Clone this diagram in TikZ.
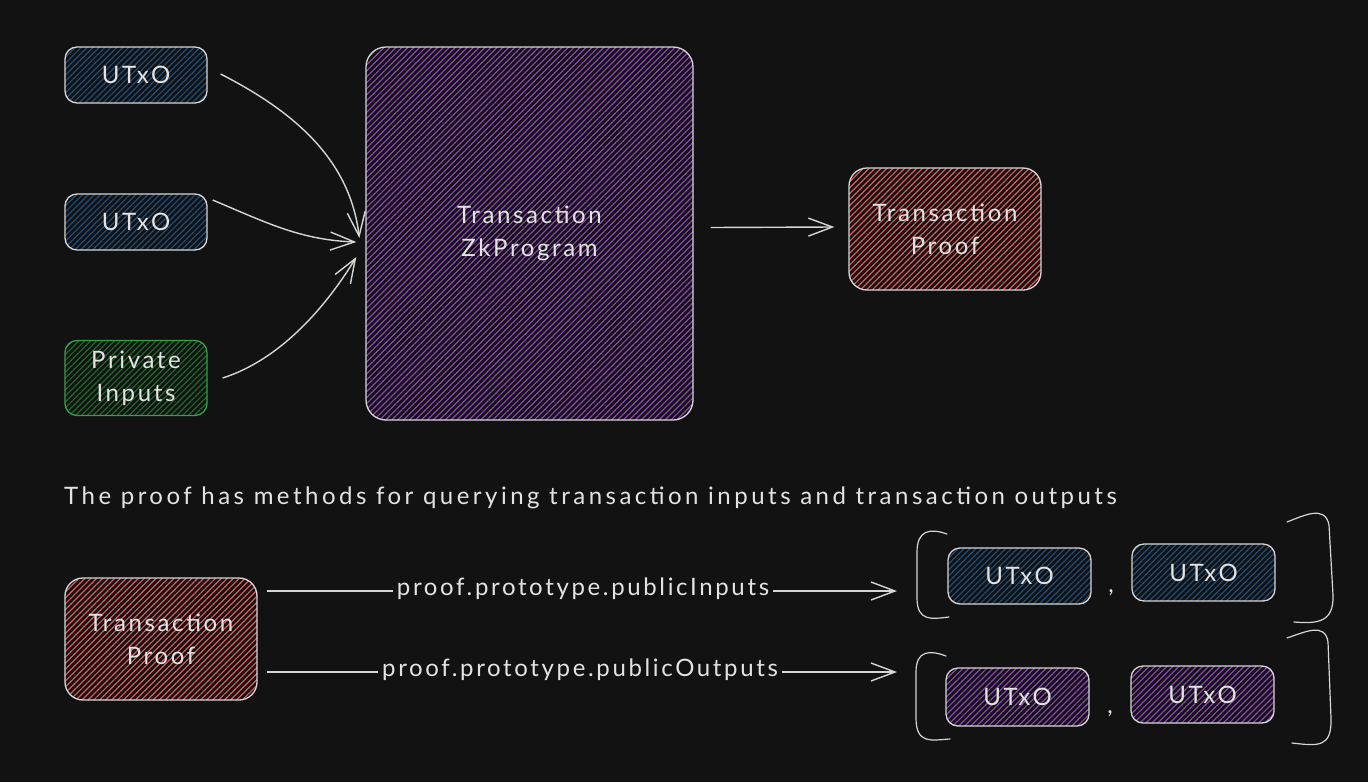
\documentclass[tikz,border=0pt]{standalone}
\usepackage{fontspec}
\setmainfont[LetterSpace=11]{Lato}
\newfontfamily\capfont[LetterSpace=14.5]{Lato}
\usetikzlibrary{arrows.meta,patterns.meta}
\definecolor{bg}{HTML}{121212}
\definecolor{ink}{HTML}{E3E3E3}
\definecolor{edge}{HTML}{D6D6D6}
\definecolor{hblue}{HTML}{1F4E7A}
\definecolor{hpurple}{HTML}{8E44B8}
\definecolor{hred}{HTML}{E05A5A}
\definecolor{hgreen}{HTML}{1E6B2A}
\definecolor{gedge}{HTML}{34A047}
\tikzset{
  txt/.style={text=ink,font=\fontsize{24}{33}\selectfont,align=center},
  box/.style={txt,draw=edge,line width=1.3pt,rounded corners=12pt,inner sep=0pt},
  hatch/.style={pattern={Lines[angle=45,distance=4.2pt,line width=1.2pt]},pattern color=#1},
  arr/.style={draw=edge,line width=1.4pt,-{Straight Barb[length=24pt,width=18pt,line width=1.4pt]}},
  plain/.style={draw=edge,line width=1.4pt},
  brk/.style={draw=edge,line width=1.2pt,line cap=round},
}
\begin{document}
\begin{tikzpicture}[x=1pt,y=-1pt]
\useasboundingbox (0,0) rectangle (1368,782);
\fill[bg] (0,0) rectangle (1368,782);

% top row
\node[box,hatch=hblue,minimum width=142pt,minimum height=56pt] (u1) at (136,75) {UTxO};
\node[box,hatch=hblue,minimum width=142pt,minimum height=56pt] (u2) at (136,222) {UTxO};
\node[box,hatch=hgreen,draw=gedge,minimum width=142pt,minimum height=75pt] (pi) at (136,378) {Private\\Inputs};
\node[box,hatch=hpurple,minimum width=327pt,minimum height=373pt,rounded corners=20pt] (zk) at (529.5,233.5) {Transaction\\ZkProgram};
\node[box,hatch=hred,minimum width=192pt,minimum height=122pt,rounded corners=18pt] (tp) at (945,229) {Transaction\\Proof};

\draw[arr] ([xshift=13pt,yshift=1pt]u1.east) .. controls (295,112) and (350,160) .. ([xshift=-6pt,yshift=-4.5pt]zk.west);
\draw[arr] ([xshift=5pt,yshift=22pt]u2.east) .. controls (265,222) and (300,240) .. ([xshift=-9pt,yshift=-8.5pt]zk.west);
\draw[arr] ([xshift=15pt]pi.east) .. controls (285,358) and (330,300) .. ([xshift=-9pt,yshift=-23.5pt]zk.west);
\draw[arr] ([xshift=17pt,yshift=6pt]zk.east) -- ([xshift=-14pt,yshift=2pt]tp.west);

% caption
\node[txt,font=\capfont\fontsize{24}{33}\selectfont,anchor=base west,inner sep=0pt] (cap) at (64,504) {The proof has methods for querying transaction inputs and transaction outputs};

% bottom
\node[box,hatch=hred,minimum width=192pt,minimum height=122pt,rounded corners=18pt] (bp) at (161,639) {Transaction\\Proof};
\node[txt,inner sep=4pt] (l1) at (583,589) {proof.prototype.publicInputs};
\node[txt,inner sep=4pt] (l2) at (580,670) {proof.prototype.publicOutputs};
\coordinate (s1) at (267,591);
\coordinate (s2) at (267,672);
\coordinate (e1) at (897,591);
\coordinate (e2) at (897,672);
\draw[plain] (s1) -- (l1.west |- s1);
\draw[arr] (l1.east |- e1) -- (e1);
\draw[plain] (s2) -- (l2.west |- s2);
\draw[arr] (l2.east |- e2) -- (e2);

\node[box,hatch=hblue,minimum width=143pt,minimum height=56pt] (o1) at (1019.5,576) {UTxO};
\node[box,hatch=hblue,minimum width=143pt,minimum height=57pt] (o2) at (1203.5,572.5) {UTxO};
\node[box,hatch=hpurple,minimum width=143pt,minimum height=58pt] (p1) at (1017.5,697) {UTxO};
\node[box,hatch=hpurple,minimum width=143pt,minimum height=57pt] (p2) at (1202.5,694.5) {UTxO};
\node[txt,anchor=base,inner sep=0pt] (c1) at (1111,592) {,};
\node[txt,anchor=base,inner sep=0pt] (c2) at (1110,713) {,};

% brackets
\draw[brk] (947,534) .. controls (930,528) and (917,530) .. (917,552) -- (917,598) .. controls (917,622) and (932,619) .. (949,617);
\draw[brk] (1287,522) .. controls (1305,515) and (1325,505) .. (1329,525) -- (1333,595) .. controls (1334,622) and (1318,624) .. (1294,622);
\draw[brk] (946,656) .. controls (930,650) and (916,650) .. (916,672) -- (916,718) .. controls (916,745) and (932,740) .. (950,739);
\draw[brk] (1287,638) .. controls (1305,632) and (1325,622) .. (1328,642) -- (1331,718) .. controls (1332,748) and (1318,746) .. (1292,743);
\end{tikzpicture}
\end{document}
